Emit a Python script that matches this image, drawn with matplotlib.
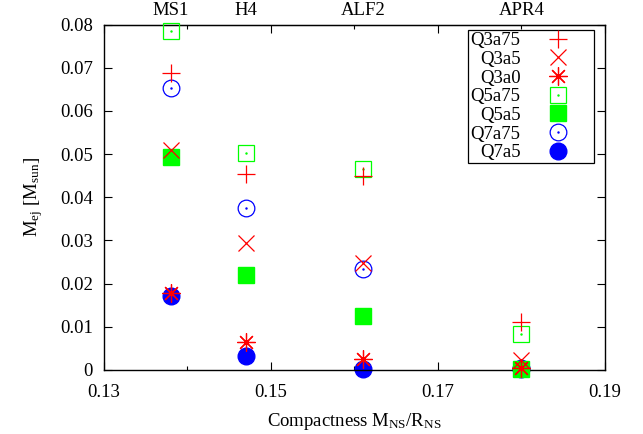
import matplotlib
matplotlib.use('Agg')
import matplotlib.pyplot as plt
from matplotlib.ticker import MultipleLocator

plt.rcParams['font.family'] = 'Liberation Serif'
plt.rcParams['mathtext.fontset'] = 'custom'
plt.rcParams['mathtext.rm'] = 'Liberation Serif'
plt.rcParams['mathtext.it'] = 'Liberation Serif:italic'
plt.rcParams['font.size'] = 13.5

# compactness of each EOS
eos_names = ['MS1', 'H4', 'ALF2', 'APR4']
compactness = [0.1380, 0.1470, 0.1610, 0.1800]

# ejecta mass per model [M_sun]
q3a75 = [0.0687, 0.0455, 0.0450, 0.0112]
q3a5 = [0.0509, 0.0293, 0.0247, 0.0023]
q3a0 = [0.0178, 0.0064, 0.0026, 0.0004]
q5a75 = [0.0785, 0.0502, 0.0465, 0.0083]
q5a5 = [0.0494, 0.0221, 0.0126, 0.0002]
q7a75 = [0.0652, 0.0374, 0.0235, 0.0005]
q7a5 = [0.0171, 0.0032, 0.0002, 0.0003]

xticks = [0.13, 0.15, 0.17, 0.19]

red, green, blue = '#ff0000', '#00ff00', '#0000ff'
ms = 12
lw = 0.9

fig = plt.figure(figsize=(6.43, 4.34), dpi=100)
ax = fig.add_axes([0.1617, 0.1475, 0.7792, 0.796])

# blue first, then green, red on top (as in the original)
h_q7a5, = ax.plot(compactness, q7a5, 'o', color=blue, ms=ms, ls='none', zorder=2, clip_on=False)
h_q7a75, = ax.plot(compactness, q7a75, 'o', mfc='none', mec=blue, mew=lw, ms=ms, ls='none', zorder=2, clip_on=False)
d_q7a75, = ax.plot(compactness, q7a75, '.', color=blue, ms=1.5, ls='none', zorder=2, clip_on=False)
h_q5a5, = ax.plot(compactness, q5a5, 's', color=green, ms=ms, ls='none', zorder=3, clip_on=False)
h_q5a75, = ax.plot(compactness, q5a75, 's', mfc='none', mec=green, mew=lw, ms=ms, ls='none', zorder=3, clip_on=False)
d_q5a75, = ax.plot(compactness, q5a75, '.', color=green, ms=1.5, ls='none', zorder=3, clip_on=False)
h_q3a0, = ax.plot(compactness, q3a0, marker=(8, 2, 0), color=red, mew=lw, ms=ms + 1, ls='none', zorder=4, clip_on=False)
h_q3a5, = ax.plot(compactness, q3a5, 'x', color=red, mew=lw, ms=ms, ls='none', zorder=4, clip_on=False)
h_q3a75, = ax.plot(compactness, q3a75, '+', color=red, mew=lw, ms=ms + 1, ls='none', zorder=4, clip_on=False)

ax.set_xlim(0.13, 0.19)
ax.set_ylim(0, 0.08)
ax.set_xticks(xticks)
ax.xaxis.set_minor_locator(MultipleLocator(0.01))
ax.yaxis.set_major_locator(MultipleLocator(0.01))
ax.xaxis.set_major_formatter(lambda v, p: f'{v:.2f}')
ax.yaxis.set_major_formatter(lambda v, p: '0' if abs(v) < 1e-9 else f'{v:.2f}')
ax.tick_params(which='both', direction='in', top=True, right=True, width=0.8)
ax.tick_params(which='major', length=6)
ax.tick_params(which='minor', length=3)
ax.tick_params(axis='y', pad=8)
ax.tick_params(axis='x', pad=10)
for sp in ax.spines.values():
    sp.set_linewidth(1.0)

sec = ax.secondary_xaxis('top')
sec.set_xticks(compactness)
sec.set_xticklabels(eos_names)
sec.tick_params(length=0, pad=4)

ax.set_xlabel(r'Compactness $\mathrm{M_{NS}/R_{NS}}$', labelpad=7)
ax.set_ylabel(r'$\mathrm{M_{ej}\ [M_{sun}]}$', labelpad=11)

handles = [h_q3a75, h_q3a5, h_q3a0, (h_q5a75, d_q5a75), h_q5a5, (h_q7a75, d_q7a75), h_q7a5]
labels = ['Q3a75', 'Q3a5', 'Q3a0', 'Q5a75', 'Q5a5', 'Q7a75', 'Q7a5']
leg = ax.legend(handles, labels, loc='upper right', bbox_to_anchor=(0.978, 0.984),
                borderaxespad=0, markerfirst=False, fancybox=False, framealpha=1,
                edgecolor='black', labelspacing=0.08, handlelength=3.6,
                handletextpad=0.2, borderpad=0.12, numpoints=1)
leg.get_frame().set_linewidth(0.9)

fig.savefig('out.png', dpi=100)
